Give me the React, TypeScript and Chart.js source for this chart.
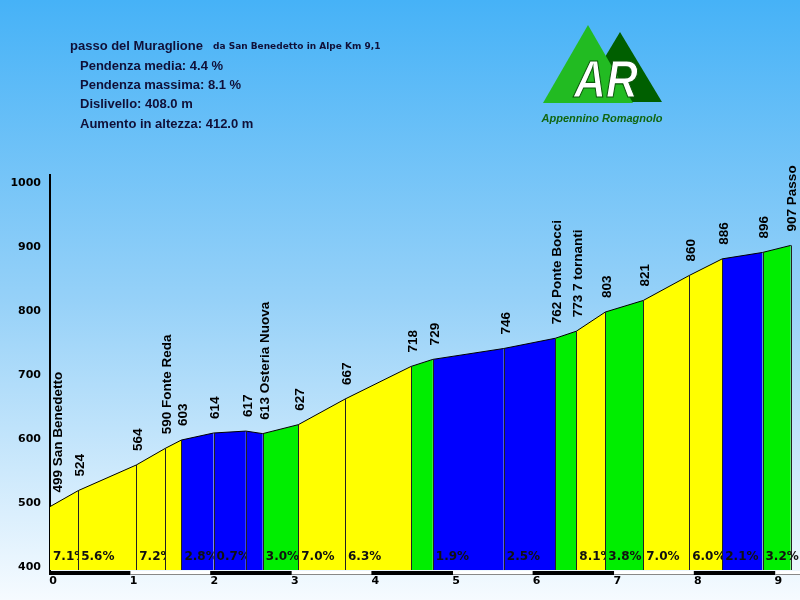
import React, { useEffect, useRef } from "react";
import { Chart, registerables } from "chart.js";
Chart.register(...registerables);

// ---- data ----
const distKm = [0, 0.35, 1.07, 1.43, 1.63, 2.03, 2.43, 2.64, 3.08, 3.66, 4.48, 4.75, 5.63, 6.27, 6.53, 6.89, 7.36, 7.93, 8.34, 8.84, 9.19];
const elev = [499, 524, 564, 590, 603, 614, 617, 613, 627, 667, 718, 729, 746, 762, 773, 803, 821, 860, 886, 896, 907];
const placeNames = ["San Benedetto", "", "", "Fonte Reda", "", "", "", "Osteria Nuova", "", "", "", "", "", "Ponte Bocci", "7 tornanti", "", "", "", "", "", "Passo"];
const grades = [7.1, 5.6, 7.2, 6.5, 2.8, 0.7, -1.0, 3.0, 7.0, 6.3, 4.1, 1.9, 2.5, 4.2, 8.1, 3.8, 7.0, 6.0, 2.1, 3.2];
const yMin = 400;
const yMax = 1017;
const xMax = 9.305;
const titleMain = "passo del Muraglione";
const titleSub = "da San Benedetto in Alpe Km 9,1";
const infoLines = ["Pendenza media: 4.4 %", "Pendenza massima: 8.1 %", "Dislivello: 408.0 m", "Aumento in altezza: 412.0 m"];
const logoInitials = "AR";
const logoName = "Appennino Romagnolo";

const gradeColor = (g: number) => (g < 3 ? "#0000ff" : g < 5 ? "#00ee00" : "#ffff00");

const profilePlugin = {
  id: "profile",
  beforeDraw(chart: any) {
    const { ctx, width, height } = chart;
    const g = ctx.createLinearGradient(0, 0, 0, height);
    g.addColorStop(0, "#46b2f7");
    g.addColorStop(0.5, "#96d1f8");
    g.addColorStop(1, "#f6fbff");
    ctx.save();
    ctx.fillStyle = g;
    ctx.fillRect(0, 0, width, height);
    ctx.restore();
  },
  afterDatasetsDraw(chart: any) {
    const { ctx, chartArea } = chart;
    const xs = chart.scales.x;
    const ys = chart.scales.y;
    const bottom = chartArea.bottom;
    ctx.save();
    // vertical dividers
    ctx.strokeStyle = "#222";
    ctx.lineWidth = 1;
    for (let i = 1; i < distKm.length; i++) {
      const px = Math.round(xs.getPixelForValue(distKm[i])) + 0.5;
      ctx.beginPath();
      ctx.moveTo(px, ys.getPixelForValue(elev[i]));
      ctx.lineTo(px, bottom);
      ctx.stroke();
    }
    // grade labels
    ctx.font = "bold 12px 'DejaVu Sans'";
    ctx.fillStyle = "#111";
    ctx.textAlign = "left";
    ctx.textBaseline = "alphabetic";
    for (let i = 0; i < grades.length; i++) {
      const x0 = xs.getPixelForValue(distKm[i]);
      const x1 = xs.getPixelForValue(distKm[i + 1]);
      if (x1 - x0 < 25) continue;
      const clipRight = i === grades.length - 1 ? chartArea.right : x1;
      ctx.save();
      ctx.beginPath();
      ctx.rect(x0, chartArea.top, clipRight - x0, bottom - chartArea.top);
      ctx.clip();
      ctx.fillText(grades[i].toFixed(1) + "%", x0 + 3, 560);
      ctx.restore();
    }
    // elevation labels
    ctx.font = "bold 13.5px 'Liberation Sans'";
    ctx.fillStyle = "#000";
    ctx.textBaseline = "middle";
    for (let i = 0; i < elev.length; i++) {
      const px = xs.getPixelForValue(distKm[i]);
      const py = ys.getPixelForValue(elev[i]);
      const text = elev[i] + (placeNames[i] ? " " + placeNames[i] : "");
      ctx.save();
      ctx.translate(px + (i === 0 ? 8 : 2), py - 14);
      ctx.rotate(-Math.PI / 2);
      ctx.fillText(text, 0, 0);
      ctx.restore();
    }
    // x-axis bar
    for (let k = 0; ; k++) {
      const a = xs.getPixelForValue(k);
      if (a >= chartArea.right) break;
      const b = Math.min(xs.getPixelForValue(k + 1), chartArea.right);
      if (k % 2 === 0) {
        ctx.fillStyle = "#000";
        ctx.fillRect(a - 1, bottom + 1, b - a + 1, 4);
      } else {
        ctx.fillStyle = "#fff";
        ctx.fillRect(a, bottom + 1, b - a, 3);
        ctx.fillStyle = "#888";
        ctx.fillRect(a, bottom + 4, b - a, 1);
      }
    }
    ctx.restore();
  },
  afterDraw(chart: any) {
    const { ctx } = chart;
    ctx.save();
    ctx.fillStyle = "#101038";
    ctx.textAlign = "left";
    ctx.textBaseline = "alphabetic";
    ctx.font = "bold 13px 'Liberation Sans'";
    ctx.fillText(titleMain, 70, 50);
    ctx.font = "bold 9px 'DejaVu Sans'";
    ctx.fillText(titleSub, 213, 49);
    ctx.font = "bold 13px 'Liberation Sans'";
    const bases = [70, 89, 108, 127.5];
    infoLines.forEach((t, i) => ctx.fillText(t, 80, bases[i]));
    // logo
    ctx.fillStyle = "#005f00";
    ctx.beginPath();
    ctx.moveTo(620, 32);
    ctx.lineTo(662, 102);
    ctx.lineTo(578, 102);
    ctx.closePath();
    ctx.fill();
    ctx.fillStyle = "#22bb22";
    ctx.beginPath();
    ctx.moveTo(588, 25);
    ctx.lineTo(633, 103);
    ctx.lineTo(543, 103);
    ctx.closePath();
    ctx.fill();
    ctx.save();
    ctx.translate(606, 97);
    ctx.scale(0.85, 1);
    ctx.font = "italic bold 52px 'Liberation Sans'";
    ctx.textAlign = "center";
    ctx.fillStyle = "#fff";
    ctx.strokeStyle = "#0a5a0a";
    ctx.lineWidth = 1.2;
    ctx.fillText(logoInitials, 0, 0);
    ctx.strokeText(logoInitials, 0, 0);
    ctx.restore();
    ctx.font = "italic bold 11px 'Liberation Sans'";
    ctx.textAlign = "center";
    ctx.fillStyle = "#116611";
    ctx.fillText(logoName, 602, 122);
    ctx.restore();
  },
};

export default function App() {
  const ref = useRef<HTMLCanvasElement>(null);
  useEffect(() => {
    if (!ref.current) return;
    const chart = new Chart(ref.current, {
      type: "line",
      data: {
        datasets: grades.map((g, i) => ({
          data: [
            { x: distKm[i], y: elev[i] },
            { x: distKm[i + 1], y: elev[i + 1] },
          ],
          fill: "start",
          backgroundColor: gradeColor(g),
          borderColor: "#000",
          borderWidth: 1,
          pointRadius: 0,
          tension: 0,
        })),
      },
      options: {
        responsive: false,
        animation: false,
        events: [],
        layout: { padding: { top: 175, left: 0, right: 0, bottom: 0 } },
        plugins: { legend: { display: false }, tooltip: { enabled: false } },
        scales: {
          x: {
            type: "linear",
            min: 0,
            max: xMax,
            grid: { display: false, drawTicks: false },
            border: { display: false },
            afterFit: (s: any) => {
              s.height = 30;
            },
            ticks: {
              stepSize: 1,
              includeBounds: false,
              autoSkip: false,
              maxRotation: 0,
              padding: 5,
              labelOffset: 3,
              color: "#000",
              callback: (v: any) => String(v),
              font: { family: "'DejaVu Sans'", weight: "bold", size: 11 },
            },
          },
          y: {
            type: "linear",
            min: yMin,
            max: yMax,
            grid: { display: false, drawTicks: false },
            border: { display: true, color: "#000", width: 2 },
            afterFit: (s: any) => {
              s.width = 50;
            },
            ticks: {
              stepSize: 100,
              includeBounds: false,
              padding: 9,
              labelOffset: -3,
              color: "#000",
              callback: (v: any) => String(v),
              font: { family: "'DejaVu Sans'", weight: "bold", size: 11 },
            },
          },
        },
      },
      plugins: [profilePlugin],
    });
    return () => chart.destroy();
  }, []);
  return (
    <div style={{ position: "fixed", left: 0, top: 0, width: 800, height: 600 }}>
      <canvas ref={ref} width={800} height={600} style={{ display: "block" }} />
    </div>
  );
}
